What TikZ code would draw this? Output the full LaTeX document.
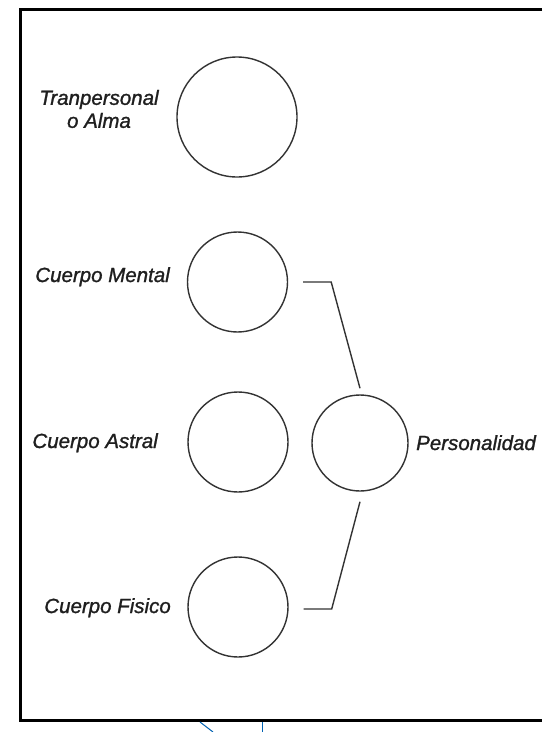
\documentclass[tikz,border=0pt]{standalone}
\usepackage{fontspec}
\setmainfont{Liberation Sans}
\newfontfamily\lblfont{Liberation Sans}[ItalicFeatures={FakeBold=1.2}]
\begin{document}
\begin{tikzpicture}[x=1pt,y=-1pt,
  ring/.style={circle,draw=black!80,line width=1.4pt,inner sep=0pt},
  lbl/.style={font=\lblfont\fontsize{20.5}{23}\selectfont\itshape,text=black!88,inner sep=0pt},
  link/.style={draw=black!80,line width=1.4pt},
  frame/.style={draw=black,line width=3pt},
  stray/.style={draw=blue!45!cyan!70!black,line width=1pt}]
\useasboundingbox (0,0) rectangle (542,732);
\fill[white] (0,0) rectangle (542,732);
\draw[frame] (542,9) -- (20,9) -- (20,720) -- (542,720);

\node[ring,minimum size=120pt] (alma) at (237,117) {};
\node[ring,minimum size=100pt] (mental) at (237.5,282) {};
\node[ring,minimum size=100pt] (astral) at (238,442) {};
\node[ring,minimum size=100pt] (fisico) at (238,607) {};
\node[ring,minimum size=96pt] (pers) at (360,443) {};

\node[lbl,align=center] (lalma) at (99,109) {Tranpersonal\\o Alma};
\node[lbl,anchor=base east] (lmental) at (170,282) {Cuerpo Mental};
\node[lbl,anchor=base east] (lastral) at (158,448) {Cuerpo Astral};
\node[lbl,anchor=base east] (lfisico) at (171,613) {Cuerpo Fisico};
\node[lbl,anchor=base west] (lpers) at (416,450) {Personalidad};

\draw[link] ([xshift=15pt]mental.east) -- ([xshift=43pt]mental.east) -- ([yshift=6pt]pers.north);
\draw[link] ([yshift=-10pt]pers.south) -- ([xshift=43pt,yshift=-2pt]fisico.east) -- ([xshift=15pt,yshift=-2pt]fisico.east);

\coordinate (s1) at (200,722);
\coordinate (s2) at (213,732);
\coordinate (s3) at (262,722);
\coordinate (s4) at (262,732);
\draw[stray] (s1) -- (s2);
\draw[stray] (s3) -- (s4);
\end{tikzpicture}
\end{document}
